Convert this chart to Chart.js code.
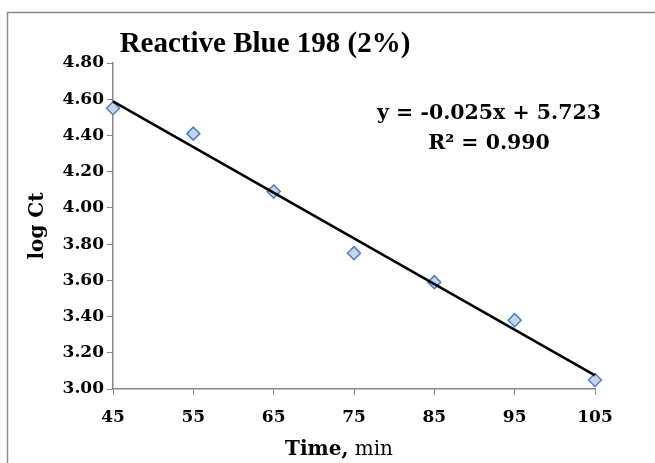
<!DOCTYPE html>
<html>
<head>
<meta charset="utf-8">
<script src="https://cdn.jsdelivr.net/npm/chart.js@4"></script>
<style>
  html, body { margin: 0; padding: 0; background: #fff; }
  #wrap { width: 655px; height: 463px; }
</style>
</head>
<body>
<div id="wrap"><canvas id="c" width="655" height="463"></canvas></div>
<script>
const timeMin = [45, 55, 65, 75, 85, 95, 105];
const logCt = [4.55, 4.41, 4.09, 3.75, 3.59, 3.38, 3.05];
const equationText = 'y = -0.025x + 5.723';
const r2Text = 'R\u00B2 = 0.990';

// least squares fit for the trend line
const n = timeMin.length;
const mx = timeMin.reduce((a, b) => a + b, 0) / n;
const my = logCt.reduce((a, b) => a + b, 0) / n;
let sxy = 0, sxx = 0;
for (let i = 0; i < n; i++) {
    sxy += (timeMin[i] - mx) * (logCt[i] - my);
    sxx += (timeMin[i] - mx) * (timeMin[i] - mx);
}
const slope = sxy / sxx;
const intercept = my - slope * mx;
const xMin = timeMin[0], xMax = timeMin[n - 1];

const serif = '"DejaVu Serif", "Liberation Serif", serif';
const titleFont = '"Liberation Serif", "DejaVu Serif", serif';

const extras = {
    id: 'extras',
    beforeDraw(chart) {
        const c = chart.ctx;
        c.save();
        c.strokeStyle = '#8c8c8c';
        c.lineWidth = 1.5;
        c.strokeRect(7.5, 12.5, 700, 500);
        c.restore();
    },
    afterDraw(chart) {
        const c = chart.ctx;
        c.save();
        c.fillStyle = '#000';
        c.textBaseline = 'middle';
        c.textAlign = 'center';
        c.font = 'bold 29px ' + titleFont;
        c.fillText('Reactive Blue 198 (2%)', 265, 45);
        c.font = 'bold 20.5px ' + serif;
        c.fillText(equationText, 489, 114);
        c.fillText(r2Text, 489, 144);
        // x axis title, mixed weight
        const a = 'Time,', b = ' min';
        c.font = 'bold 20px ' + serif;
        const wa = c.measureText(a).width;
        c.font = '20px ' + serif;
        const wb = c.measureText(b).width;
        let x0 = 339 - (wa + wb) / 2;
        c.textAlign = 'left';
        c.font = 'bold 20px ' + serif;
        c.fillText(a, x0, 450);
        c.font = '20px ' + serif;
        c.fillText(b, x0 + wa, 450);
        // y axis title
        c.translate(38, 226);
        c.rotate(-Math.PI / 2);
        c.textAlign = 'center';
        c.font = 'bold 20px ' + serif;
        c.fillText('log Ct', 0, 0);
        c.restore();
    }
};

new Chart(document.getElementById('c'), {
    type: 'scatter',
    data: {
        datasets: [{
            type: 'line',
            data: [{ x: xMin, y: slope * xMin + intercept }, { x: xMax, y: slope * xMax + intercept }],
            borderColor: '#000',
            borderWidth: 2.5,
            pointRadius: 0,
            fill: false,
            clip: false
        }, {
            data: timeMin.map((t, i) => ({ x: t, y: logCt[i] })),
            pointStyle: 'rectRot',
            pointRadius: 6.5,
            backgroundColor: '#c5d5ee',
            borderColor: '#4f81bd',
            borderWidth: 1.5,
            clip: false
        }]
    },
    options: {
        responsive: false,
        animation: false,
        events: [],
        layout: { padding: { left: 0, right: 60, top: 63, bottom: 0 } },
        plugins: { legend: { display: false }, tooltip: { enabled: false } },
        scales: {
            x: {
                type: 'linear',
                min: 45, max: 105,
                afterFit(s) { s.height = 74; },
                border: { display: true, color: '#868686', width: 1.5 },
                grid: { display: true, drawOnChartArea: false, drawTicks: true, tickLength: 6, color: '#868686' },
                ticks: {
                    stepSize: 10,
                    color: '#000',
                    padding: 12,
                    font: { family: serif, weight: 'bold', size: 17 }
                }
            },
            y: {
                min: 3.0, max: 4.8,
                afterFit(s) { s.width = 113; },
                border: { display: true, color: '#868686', width: 1.5 },
                grid: { display: true, drawOnChartArea: false, drawTicks: true, tickLength: 6, color: '#868686' },
                ticks: {
                    stepSize: 0.2,
                    color: '#000',
                    padding: 3,
                    callback: v => v.toFixed(2),
                    font: { family: serif, weight: 'bold', size: 17 }
                }
            }
        }
    },
    plugins: [extras]
});
</script>
</body>
</html>
